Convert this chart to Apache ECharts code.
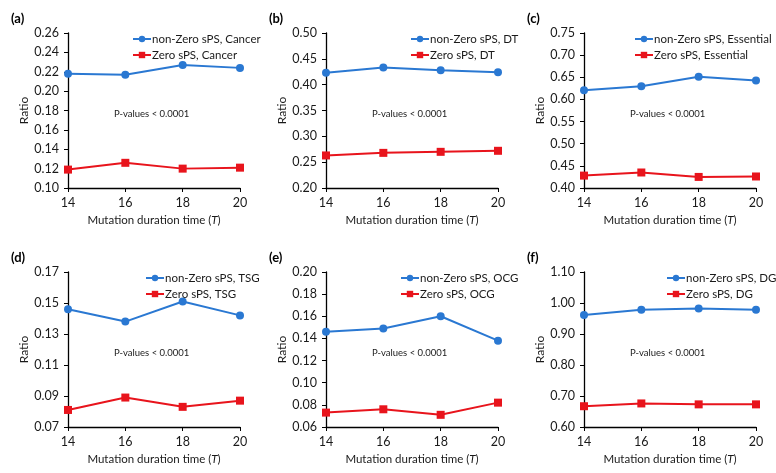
<!DOCTYPE html>
<html>
<head>
<meta charset="utf-8">
<script src="https://cdn.jsdelivr.net/npm/echarts@6/dist/echarts.min.js"></script>
<style>
html,body{margin:0;padding:0;background:#fff;}
#chart{width:776px;height:473px;}
</style>
</head>
<body>
<div id="chart"></div>
<script>
// ---- data ----
const xValues = [14, 16, 18, 20];
const panelLabels = ['(a)', '(b)', '(c)', '(d)', '(e)', '(f)'];
const geneSets = ['Cancer', 'DT', 'Essential', 'TSG', 'OCG', 'DG'];

const nonZeroCancer = [0.218, 0.217, 0.227, 0.224];
const zeroCancer = [0.119, 0.126, 0.120, 0.121];
const nonZeroDT = [0.423, 0.433, 0.428, 0.424];
const zeroDT = [0.263, 0.268, 0.270, 0.272];
const nonZeroEssential = [0.621, 0.630, 0.651, 0.643];
const zeroEssential = [0.428, 0.435, 0.425, 0.426];
const nonZeroTSG = [0.146, 0.138, 0.151, 0.142];
const zeroTSG = [0.081, 0.089, 0.083, 0.087];
const nonZeroOCG = [0.146, 0.149, 0.160, 0.138];
const zeroOCG = [0.073, 0.076, 0.071, 0.082];
const nonZeroDG = [0.961, 0.978, 0.982, 0.978];
const zeroDG = [0.667, 0.676, 0.673, 0.673];

const yMins = [0.10, 0.20, 0.40, 0.07, 0.06, 0.60];
const yMaxs = [0.26, 0.50, 0.75, 0.17, 0.20, 1.10];
const yIntervals = [0.02, 0.05, 0.05, 0.02, 0.02, 0.10];

const pValueText = 'P-values < 0.0001';
const yAxisName = 'Ratio';

const nonZeroSeries = [nonZeroCancer, nonZeroDT, nonZeroEssential, nonZeroTSG, nonZeroOCG, nonZeroDG];
const zeroSeries = [zeroCancer, zeroDT, zeroEssential, zeroTSG, zeroOCG, zeroDG];

// ---- layout ----
const FONT = 'Lato, "Liberation Sans", sans-serif';
const BLUE = '#2A78D2';
const RED = '#E8141C';
const colX = [0, 258, 516];
const rowY = [0, 239];
const legendLeft = [127, 147, 113, 140, 137, 145];

const chart = echarts.init(document.getElementById('chart'), null, {renderer: 'canvas'});

const grids = [], xAxes = [], yAxes = [], series = [], legends = [], titles = [], graphics = [];

for (let i = 0; i < 6; i++) {
  const cx = colX[i % 3];
  const cy = rowY[Math.floor(i / 3)];
  const top = cy + 33;
  grids.push({left: cx + 68, top: top, width: 172, height: 155, containLabel: false});
  xAxes.push({
    type: 'value', gridIndex: i, min: 14, max: 20, interval: 2,
    axisLine: {lineStyle: {color: '#000', width: 1.3}},
    axisTick: {show: true, length: 4, lineStyle: {color: '#000'}},
    splitLine: {show: false},
    axisLabel: {color: '#1a1a1a', fontSize: 12.5, fontFamily: FONT, margin: 8},
    name: 'Mutation duration time ({i|T})',
    nameLocation: 'middle', nameGap: 26,
    nameTextStyle: {color: '#1a1a1a', fontSize: 11.5, fontFamily: FONT,
      rich: {i: {fontStyle: 'italic', fontSize: 11.5, fontFamily: FONT, color: '#1a1a1a'}}}
  });
  yAxes.push({
    type: 'value', gridIndex: i, min: yMins[i], max: yMaxs[i], interval: yIntervals[i],
    axisLine: {show: true, lineStyle: {color: '#000', width: 1.3}},
    axisTick: {show: true, length: 4, lineStyle: {color: '#000'}},
    splitLine: {show: false},
    axisLabel: {color: '#1a1a1a', fontSize: 12.5, fontFamily: FONT, margin: 9,
      formatter: v => v.toFixed(2)},
    name: yAxisName, nameLocation: 'middle', nameGap: 33,
    nameTextStyle: {color: '#1a1a1a', fontSize: 12, fontFamily: FONT}
  });
  const nzName = 'non-Zero sPS, ' + geneSets[i];
  const zName = 'Zero sPS, ' + geneSets[i];
  series.push({
    name: nzName, type: 'line', xAxisIndex: i, yAxisIndex: i,
    data: xValues.map((x, k) => [x, nonZeroSeries[i][k]]),
    symbol: 'circle', symbolSize: 8,
    lineStyle: {color: BLUE, width: 2}, itemStyle: {color: BLUE}, animation: false
  });
  series.push({
    name: zName, type: 'line', xAxisIndex: i, yAxisIndex: i,
    data: xValues.map((x, k) => [x, zeroSeries[i][k]]),
    symbol: 'rect', symbolSize: 8,
    lineStyle: {color: RED, width: 2}, itemStyle: {color: RED}, animation: false
  });
  legends.push({
    data: [nzName, zName], orient: 'vertical',
    left: cx + legendLeft[i], top: top - 5,
    itemWidth: 18, itemHeight: 8, itemGap: 4,
    textStyle: {color: '#1a1a1a', fontSize: 11.5, fontFamily: FONT, padding: [0, 0, 0, -4]},
    selectedMode: false
  });
  titles.push({
    text: panelLabels[i], left: cx + 6, top: cy + 7,
    textStyle: {fontSize: 13, fontWeight: 'bold', fontFamily: FONT, color: '#000'}
  });
  graphics.push({
    type: 'text', left: cx + 114, top: top + 76,
    style: {text: pValueText, fontSize: 9.5, fontFamily: FONT, fill: '#1a1a1a'}
  });
}

chart.setOption({
  animation: false,
  backgroundColor: '#fff',
  title: titles,
  grid: grids,
  xAxis: xAxes,
  yAxis: yAxes,
  legend: legends,
  series: series,
  graphic: graphics
});
</script>
</body>
</html>
